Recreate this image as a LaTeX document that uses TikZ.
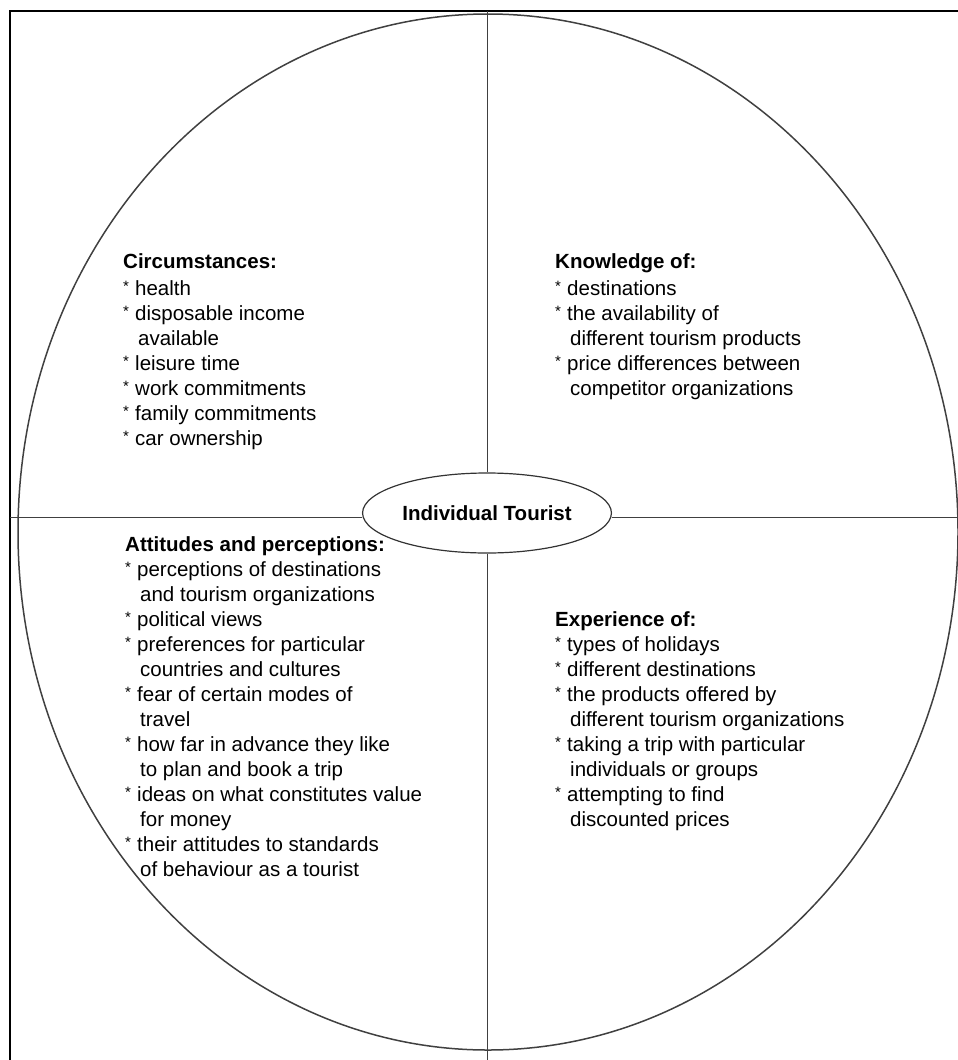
\documentclass[tikz,border=0pt]{standalone}
\usepackage{fontspec}
\setmainfont{Liberation Sans}
\usetikzlibrary{shapes}
\newcommand{\bul}{\makebox[12pt][l]{\raisebox{4pt}{\fontsize{15}{15}\selectfont *}}}
\newcommand{\cont}{\hspace*{15pt}}

\begin{document}
\begin{tikzpicture}[x=1pt,y=-1pt,align=left]
    \tikzstyle{frame} = [line width=2.5pt]
    \tikzstyle{divider} = [draw=black!75,line width=1pt]
    \tikzstyle{centre} = [draw=black!80,line width=1.2pt,ellipse,fill=white,minimum width=215pt,minimum height=80pt,font=\bfseries\fontsize{20.5}{25}\selectfont]
    \tikzstyle{factors} = [anchor=north west,inner sep=0pt,font=\fontsize{20.5}{25}\selectfont]
      \useasboundingbox (0,0) rectangle (958,1060);
      \coordinate (frameCorner) at (10,11);
      \coordinate (frameTop) at (958,11);
      \coordinate (frameBottom) at (10,1060);
      \draw[frame] (frameBottom) -- (frameCorner) -- (frameTop);
      \draw[black!75,line width=1.5pt] (488,532) ellipse [x radius=470, y radius=518];
      \node[centre] (tourist) at (487,513) {Individual Tourist};
      \coordinate (west) at (10,517);
      \coordinate (east) at (958,517);
      \coordinate (north) at (487,11);
      \coordinate (south) at (487,1060);
      \draw[divider] (west) -- (west -| tourist.west);
      \draw[divider] (east) -- (east -| tourist.east);
      \draw[divider] (north) -- (north |- tourist.north);
      \draw[divider] (south) -- (south |- tourist.south);
      \node[factors] (circumstances) at (123,253) {\textbf{Circumstances:}\\[2pt]
        \bul health\\
        \bul disposable income\\
        \cont available\\
        \bul leisure time\\
        \bul work commitments\\
        \bul family commitments\\
        \bul car ownership};
      \node[factors] (knowledge) at (555,253) {\textbf{Knowledge of:}\\[2pt]
        \bul destinations\\
        \bul the availability of\\
        \cont different tourism products\\
        \bul price differences between\\
        \cont competitor organizations};
      \node[factors] (attitudes) at (125,536) {\textbf{Attitudes and perceptions:}\\
        \bul perceptions of destinations\\
        \cont and tourism organizations\\
        \bul political views\\
        \bul preferences for particular\\
        \cont countries and cultures\\
        \bul fear of certain modes of\\
        \cont travel\\
        \bul how far in advance they like\\
        \cont to plan and book a trip\\
        \bul ideas on what constitutes value\\
        \cont for money\\
        \bul their attitudes to standards\\
        \cont of behaviour as a tourist};
      \node[factors] (experience) at (555,611) {\textbf{Experience of:}\\
        \bul types of holidays\\
        \bul different destinations\\
        \bul the products offered by\\
        \cont different tourism organizations\\
        \bul taking a trip with particular\\
        \cont individuals or groups\\
        \bul attempting to find\\
        \cont discounted prices};
  \end{tikzpicture}
\end{document}
